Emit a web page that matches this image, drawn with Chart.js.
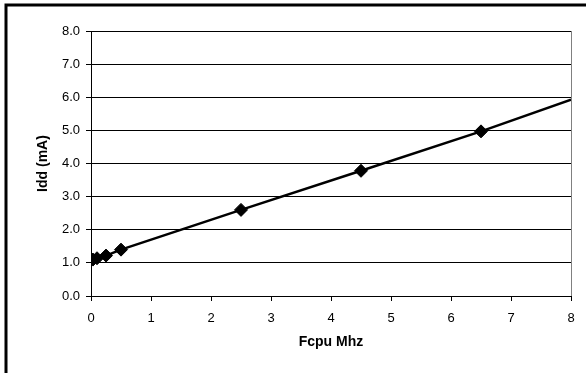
<!DOCTYPE html>
<html>
<head>
<meta charset="utf-8">
<script src="https://cdn.jsdelivr.net/npm/chart.js@4/dist/chart.umd.min.js"></script>
<style>
html,body{margin:0;padding:0;background:#fff;}
#wrap{width:586px;height:373px;position:relative;}
</style>
</head>
<body>
<div id="wrap"><canvas id="c" width="586" height="373"></canvas></div>
<script>
const fcpuMhz = [0.032, 0.1, 0.25, 0.5, 2.5, 4.5, 6.5, 8];
const iddMA   = [1.10, 1.14, 1.22, 1.40, 2.60, 3.78, 4.97, 5.93];
const showMarker = [true, true, true, true, true, true, true, false];
const xTitle = 'Fcpu Mhz';
const yTitle = 'Idd (mA)';

const FONT = '"Liberation Sans", Arial, sans-serif';

const frame = {
  id: 'frame',
  beforeDatasetsDraw(chart) {
    const {ctx, chartArea: a} = chart;
    ctx.save();
    ctx.strokeStyle = '#808080';
    ctx.lineWidth = 1;
    ctx.beginPath();
    ctx.moveTo(a.right + 0.5, a.top);
    ctx.lineTo(a.right + 0.5, a.bottom);
    ctx.stroke();
    ctx.restore();
  },
  afterDraw(chart) {
    const ctx = chart.ctx;
    ctx.save();
    ctx.strokeStyle = '#000';
    ctx.lineWidth = 3;
    ctx.beginPath();
    ctx.moveTo(6, 373);
    ctx.lineTo(6, 5);
    ctx.lineTo(586, 5);
    ctx.stroke();
    ctx.restore();
  }
};

new Chart(document.getElementById('c'), {
  type: 'scatter',
  data: {
    datasets: [{
      data: fcpuMhz.map((x, i) => ({x, y: iddMA[i]})),
      showLine: true,
      borderColor: '#000',
      backgroundColor: '#000',
      borderWidth: 2.5,
      pointStyle: 'rectRot',
      pointRadius: showMarker.map(s => s ? 6.5 : 0),
      pointBorderWidth: 1,
      pointBackgroundColor: '#000',
      pointBorderColor: '#000',
      tension: 0
    }]
  },
  plugins: [frame],
  options: {
    responsive: false,
    animation: false,
    events: [],
    layout: {padding: {left: 0, top: 31, right: 15, bottom: 0}},
    plugins: {legend: {display: false}, tooltip: {enabled: false}},
    scales: {
      x: {
        type: 'linear',
        min: 0, max: 8,
        afterFit(s) { s.height = 77; },
        ticks: {stepSize: 1, color: '#000', font: {family: FONT, size: 13}, padding: 10, maxRotation: 0},
        grid: {drawOnChartArea: false, drawTicks: true, tickLength: 5, color: '#000'},
        border: {color: '#000', width: 1},
        title: {display: true, text: xTitle, color: '#000', font: {family: FONT, size: 14, weight: 'bold'}, padding: {top: 0, bottom: 22}}
      },
      y: {
        min: 0, max: 8,
        afterFit(s) { s.width = 91; },
        ticks: {stepSize: 1, color: '#000', font: {family: FONT, size: 13}, padding: 6, callback: v => v.toFixed(1)},
        grid: {color: '#000', lineWidth: 1, tickLength: 5, drawTicks: true},
        border: {color: '#000', width: 1},
        title: {display: true, text: yTitle, color: '#000', font: {family: FONT, size: 14, weight: 'bold'}, padding: {top: 35, bottom: 0}}
      }
    }
  }
});
</script>
</body>
</html>
